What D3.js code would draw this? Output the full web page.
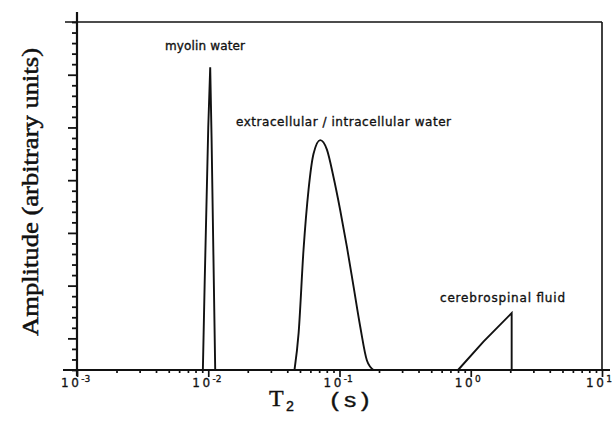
<!DOCTYPE html>
<html>
<head>
<meta charset="utf-8">
<script src="https://cdn.jsdelivr.net/npm/d3@7"></script>
<style>
  html, body { margin: 0; padding: 0; background: #fff; }
  svg { display: block; }
</style>
</head>
<body>
<svg id="chart" width="612" height="423"></svg>
<script>
// T2 distribution of water compartments (amplitude in arbitrary units, T2 in seconds)
const xDomain = [1e-3, 10];
const yDomain = [0, 33];
const xTickExponents = [-3, -2, -1, 0, 1];
const yTickValues = d3.range(0, 34);
const yMajorTicks = [3, 8, 13, 18, 23, 28];

const myelinT2  = [0.0091, 0.0094, 0.0100, 0.01035, 0.0106, 0.0113];
const myelinAmp = [0, 8.5, 23, 28.7, 22, 0];

const ecicT2  = [0.0454, 0.0488, 0.0532, 0.0581, 0.0634, 0.0713, 0.0802, 0.0900, 0.1011, 0.1138, 0.128, 0.1439, 0.1618, 0.1816];
const ecicAmp = [0, 3.5, 11.4, 17.1, 20.5, 21.8, 20.9, 18.3, 15.2, 11.7, 7.9, 4.1, 0.9, 0];

const csfT2  = [0.80, 1.25, 2.05, 2.05];
const csfAmp = [0, 2.7, 5.4, 0];

const peakLabels = ["myolin water", "extracellular / intracellular water", "cerebrospinal fluid"];
const xTitle = ["T", "2", "(s)"];
const yTitle = "Amplitude  (arbitrary units)";

const svg = d3.select("#chart");
const x = d3.scaleLog().domain(xDomain).range([77, 602]);
const y = d3.scaleLinear().domain(yDomain).range([370, 22]);
const ink = "#111";

// frame: top and right edges
svg.append("line").attr("x1", 65).attr("x2", x(10)).attr("y1", y(33)).attr("y2", y(33))
  .attr("stroke", ink).attr("stroke-width", 1.6);
svg.append("line").attr("x1", x(10)).attr("x2", x(10)).attr("y1", y(33)).attr("y2", y(0))
  .attr("stroke", ink).attr("stroke-width", 1.6);

// x axis: minor ticks on every integer multiple, longer ticks on decades
const minorX = [];
for (let e = -3; e < 1; e++) for (let m = 2; m <= 9; m++) minorX.push(m * Math.pow(10, e));
const majorX = xTickExponents.map(e => Math.pow(10, e));

const gx = svg.append("g").attr("transform", `translate(0,${y(0)})`);
gx.call(d3.axisBottom(x).tickValues(minorX).tickSize(3).tickFormat(""));
const gx2 = svg.append("g").attr("transform", `translate(0,${y(0)})`);
gx2.call(d3.axisBottom(x).tickValues(majorX).tickSize(7).tickFormat(""));
[gx, gx2].forEach(g => {
  g.select(".domain").remove();
  g.selectAll(".tick line").attr("stroke", ink).attr("stroke-width", 1.7);
});
svg.append("line").attr("x1", 63).attr("x2", 610).attr("y1", y(0)).attr("y2", y(0))
  .attr("stroke", ink).attr("stroke-width", 2.2);

// decade labels 10^n
xTickExponents.forEach(e => {
  const t = svg.append("text")
    .attr("x", x(Math.pow(10, e)) - 16).attr("y", 387)
    .attr("font-family", "DejaVu Sans, sans-serif").attr("font-size", 12)
    .attr("fill", ink).attr("stroke", ink).attr("stroke-width", 0.3);
  t.append("tspan").attr("letter-spacing", 2.5).text("10");
  t.append("tspan").attr("dy", -5).attr("font-size", 9).text(e === 0 ? "0" : (e < 0 ? "-" : "") + Math.abs(e));
});

// y axis: small ticks, longer every fifth
const gy = svg.append("g").attr("transform", `translate(${x(1e-3)},0)`);
gy.call(d3.axisLeft(y).tickValues(yTickValues.filter(v => !yMajorTicks.includes(v))).tickSize(5).tickFormat(""));
const gy2 = svg.append("g").attr("transform", `translate(${x(1e-3)},0)`);
gy2.call(d3.axisLeft(y).tickValues(yMajorTicks).tickSize(9).tickFormat(""));
[gy, gy2].forEach(g => {
  g.select(".domain").remove();
  g.selectAll(".tick line").attr("stroke", ink).attr("stroke-width", 1.8);
});
svg.append("line").attr("x1", x(1e-3)).attr("x2", x(1e-3)).attr("y1", 12).attr("y2", y(0) + 6)
  .attr("stroke", ink).attr("stroke-width", 2.2);

// distributions
const zip = (a, b) => a.map((v, i) => [v, b[i]]);
const straight = d3.line().x(d => x(d[0])).y(d => y(d[1]));
const smooth = d3.line().x(d => x(d[0])).y(d => y(d[1])).curve(d3.curveMonotoneX);

svg.append("path").datum(zip(myelinT2, myelinAmp)).attr("d", straight)
  .attr("fill", "none").attr("stroke", ink).attr("stroke-width", 1.9);
svg.append("path").datum(zip(ecicT2, ecicAmp)).attr("d", smooth)
  .attr("fill", "none").attr("stroke", ink).attr("stroke-width", 1.9);
svg.append("path").datum(zip(csfT2, csfAmp)).attr("d", straight)
  .attr("fill", "none").attr("stroke", ink).attr("stroke-width", 1.9);

// peak annotations
const labelFont = "DejaVu Sans, sans-serif";
const annotate = (tx, ty, str, len) => {
  const t = svg.append("text").attr("x", tx).attr("y", ty).text(str)
    .attr("font-family", labelFont).attr("font-size", 12).attr("fill", ink)
    .attr("stroke", ink).attr("stroke-width", 0.35);
  if (len) t.attr("textLength", len).attr("lengthAdjust", "spacing");
};
annotate(165, 50, peakLabels[0], 80);
annotate(236, 126, peakLabels[1], 215);
annotate(440, 302, peakLabels[2], 125);

// x title: serif T with subscript 2, typewriter "(s)"
const xt = svg.append("text").attr("x", 269).attr("y", 406)
  .attr("font-family", "Liberation Serif, serif").attr("font-size", 24).attr("fill", ink)
  .attr("stroke", ink).attr("stroke-width", 0.4);
xt.append("tspan").text(xTitle[0]);
xt.append("tspan").attr("dy", 5).attr("dx", 2)
  .attr("font-family", "Liberation Mono, monospace").attr("font-size", 14).text(xTitle[1]);
svg.append("text").attr("x", 328).attr("y", 407)
  .attr("font-family", "Liberation Mono, monospace").attr("font-size", 20).attr("fill", ink)
  .attr("stroke", ink).attr("stroke-width", 0.4)
  .attr("textLength", 44).attr("lengthAdjust", "spacingAndGlyphs")
  .text(xTitle[2]);

svg.append("text")
  .attr("transform", "translate(38,192) rotate(-90)")
  .attr("text-anchor", "middle")
  .attr("font-family", "Liberation Serif, serif").attr("font-size", 24).attr("fill", ink)
  .attr("stroke", ink).attr("stroke-width", 0.5)
  .attr("textLength", 288).attr("lengthAdjust", "spacingAndGlyphs")
  .text(yTitle);
</script>
</body>
</html>
